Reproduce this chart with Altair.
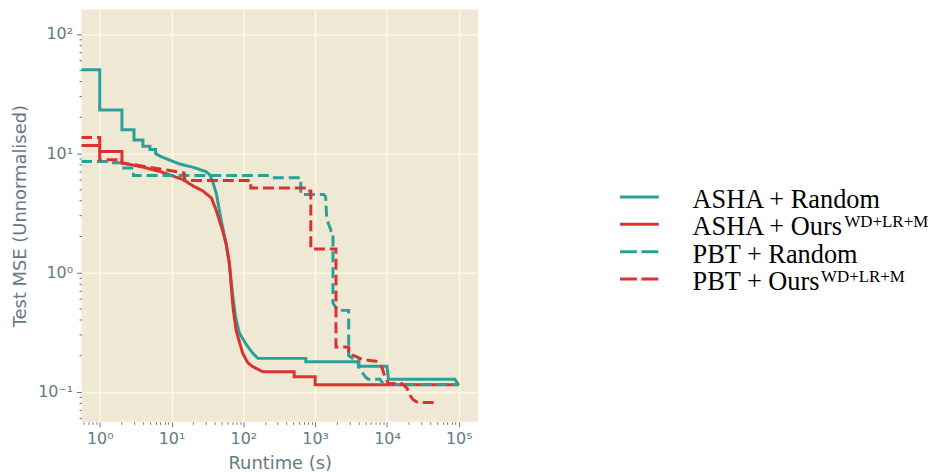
import altair as alt
import pandas as pd

# ---------------- data ----------------
SERIES = ["ASHA + Random", "ASHA + Ours", "PBT + Random", "PBT + Ours"]
MAIN_LABELS = ["ASHA + Random", "ASHA + Ours", "PBT + Random", "PBT + Ours"]
SUP_LABELS = ["", "WD+LR+M", "", "WD+LR+M"]
COLORS = ["#2aa198", "#dc322f", "#2aa198", "#dc322f"]

asha_random_x = [0.55, 1, 1, 2.04, 2.04, 3.0, 3.0, 4.0, 4.0, 5.0, 5.0, 6.0, 6.0, 7, 10, 13, 20, 30,
                 34, 38, 42, 46, 50, 58, 64, 71, 78, 88, 109, 135, 160, 740, 740, 4000, 4000,
                 10000, 10500, 88000, 100000]
asha_random_y = [50, 50, 23, 23, 15.7, 15.7, 12.9, 12.9, 11.4, 11.4, 10.7, 10.7, 9.9, 9.4, 8.6, 8.1,
                 7.6, 7.0, 6.6, 5.6, 4.6, 3.4, 2.6, 1.7, 1.15, 0.65, 0.42, 0.31, 0.25, 0.21, 0.19,
                 0.19, 0.178, 0.178, 0.163, 0.163, 0.127, 0.127, 0.113]

asha_ours_x = [0.55, 1, 1, 2.04, 2.04, 3, 4.5, 7, 10.6, 14.5, 20, 27.5, 36, 42, 46.6, 52, 58, 64,
               68, 72, 79, 90, 98, 115, 135, 186, 510, 510, 1000, 1000, 100000]
asha_ours_y = [11.6, 11.6, 10.3, 10.3, 8.25, 7.9, 7.5, 7.0, 6.4, 6.0, 5.3, 4.8, 4.2, 3.3, 2.7, 2.2,
               1.7, 1.2, 0.75, 0.5, 0.33, 0.25, 0.21, 0.175, 0.162, 0.147, 0.147, 0.133, 0.133,
               0.114, 0.114]

pbt_random_x = [0.55, 1.56, 1.56, 2.04, 2.04, 2.95, 2.95, 230, 250, 630, 630, 1320, 1400, 1450,
                1640, 1700, 1770, 1770, 2080, 2930, 2930, 3300, 4080, 4080, 4500, 5000, 5500,
                8000, 9000, 100000]
pbt_random_y = [8.5, 8.5, 8.3, 8.3, 7.5, 7.5, 6.5, 6.5, 6.2, 6.2, 4.5, 4.5, 4.3, 2.8, 2.3, 2.1, 2.1,
                0.55, 0.48, 0.48, 0.2, 0.19, 0.19, 0.16, 0.145, 0.133, 0.127, 0.127, 0.115, 0.115]

pbt_ours_x = [0.55, 1, 1, 2.04, 2.04, 3, 5, 10, 15, 15.3, 127, 127, 780, 800, 870, 870, 1950, 1950,
              2930, 2930, 3500, 4200, 5000, 7000, 7700, 8500, 9500, 10500, 16000, 19000, 21000,
              23000, 26000, 27000, 45000]
pbt_ours_y = [13.5, 13.5, 8.8, 8.8, 8.25, 8.0, 7.6, 7.1, 6.8, 5.9, 5.9, 5.1, 5.1, 4.8, 4.8, 1.57,
              1.57, 0.237, 0.237, 0.205, 0.2, 0.19, 0.185, 0.18, 0.174, 0.16, 0.13, 0.117, 0.117,
              0.107, 0.093, 0.086, 0.082, 0.081, 0.081]

# tick values
X_MAJOR = [1, 10, 100, 1000, 10000, 100000]
Y_MAJOR = [0.1, 1, 10, 100]
X_DOMAIN = [0.558, 1.85e5]
Y_DOMAIN = [0.0558, 160]

# ---------------- build tables ----------------
xs = [asha_random_x, asha_ours_x, pbt_random_x, pbt_ours_x]
ys = [asha_random_y, asha_ours_y, pbt_random_y, pbt_ours_y]
rows = []
for k, (s, xv, yv) in enumerate(zip(SERIES, xs, ys)):
    for i, (a, b) in enumerate(zip(xv, yv)):
        rows.append({"series": s, "runtime": a, "mse": b, "idx": i, "k": k})
df = pd.DataFrame(rows)


def minor_ticks(lo, hi):
    vals = []
    for d in range(-3, 7):
        for m in range(1, 10):
            v = round(m * 10 ** d, 6)
            if lo <= v <= hi:
                vals.append(v)
    return vals


x_ticks = minor_ticks(*X_DOMAIN)
y_ticks = minor_ticks(*Y_DOMAIN)

MAJOR = "abs(log(datum.value)/LN10 - round(log(datum.value)/LN10)) < 0.001"
LABEL = ("(" + MAJOR + ") ? '10' + ['⁻¹','⁰','¹','²','³','⁴','⁵'][round(log(datum.value)/LN10) + 1] : ''")
TXT = "#657b83"


def make_axis(title, values):
    return alt.Axis(
        title=title,
        values=values,
        labelExpr=LABEL,
        labelOverlap=False,
        labelFlush=False,
        labelFont="DejaVu Sans",
        labelFontSize=16,
        labelColor=TXT,
        labelPadding=4,
        tickColor=TXT,
        tickWidth=1,
        tickSize={"condition": {"test": MAJOR, "value": 5}, "value": 2.5},
        grid=True,
        gridColor="#fdf6e3",
        gridWidth=1.6,
        gridOpacity={"condition": {"test": MAJOR, "value": 1}, "value": 0},
        domain=False,
        titleFont="DejaVu Sans",
        titleFontSize=18,
        titleFontWeight="normal",
        titleColor=TXT,
        titlePadding=8,
    )


xscale = alt.Scale(type="log", domain=X_DOMAIN, nice=False)
yscale = alt.Scale(type="log", domain=Y_DOMAIN, nice=False)

layers = []
for k, s in enumerate(SERIES):
    dash = [1, 0] if k < 2 else [11, 5]
    if k == 0:
        enc = dict(
            x=alt.X("runtime:Q", scale=xscale, axis=make_axis("Runtime (s)", x_ticks)),
            y=alt.Y("mse:Q", scale=yscale, axis=make_axis("Test MSE (Unnormalised)", y_ticks)),
            order=alt.Order("idx:Q"),
        )
    else:
        enc = dict(
            x=alt.X("runtime:Q", scale=xscale),
            y=alt.Y("mse:Q", scale=yscale),
            order=alt.Order("idx:Q"),
        )
    layers.append(
        alt.Chart(df)
        .transform_filter(alt.datum.k == k)
        .mark_line(color=COLORS[k], strokeWidth=3, strokeDash=dash, clip=True)
        .encode(**enc)
    )

plot = alt.layer(*layers).properties(
    width=399, height=415,
    view=alt.ViewBackground(fill="#eee8d5", stroke=None),
)

# ---------------- legend panel ----------------
leg_df = pd.DataFrame({"series": SERIES, "main": MAIN_LABELS, "sup": SUP_LABELS})
yleg = alt.Y("series:N", scale=alt.Scale(type="point", domain=SERIES, range=[188.7, 271.3], padding=0),
             axis=None)
base = alt.Chart(leg_df).encode(y=yleg)
col = alt.Color("series:N", scale=alt.Scale(domain=SERIES, range=COLORS), legend=None)
dsh = alt.StrokeDash("series:N", scale=alt.Scale(domain=SERIES, range=[[1, 0], [1, 0], [17, 4.5], [17, 4.5]]),
                     legend=None)
rules = base.mark_rule(strokeWidth=3).encode(x=alt.value(23), x2=alt.value(62), color=col, strokeDash=dsh)
FS = 26.5
SFS = 17
texts = base.mark_text(align="left", baseline="alphabetic", font="Liberation Serif", fontSize=FS,
                       dy=11, color="black").encode(x=alt.value(96), text="main:N")
sup1 = base.transform_filter(alt.datum.series == "ASHA + Ours").mark_text(
    align="left", baseline="alphabetic", font="Liberation Serif", fontSize=SFS, dy=3, color="black",
    dx=5.73 * FS + 1).encode(x=alt.value(96), text="sup:N")
sup2 = base.transform_filter(alt.datum.series == "PBT + Ours").mark_text(
    align="left", baseline="alphabetic", font="Liberation Serif", fontSize=SFS, dy=3, color="black",
    dx=4.842 * FS + 1).encode(x=alt.value(96), text="sup:N")

legend = alt.layer(rules, texts, sup1, sup2).properties(
    width=340, height=415, view=alt.ViewBackground(stroke=None, fill=None)
)

chart = (
    alt.hconcat(plot, legend, spacing=120)
    .resolve_scale(color="independent", strokeDash="independent", y="independent", x="independent")
    .properties(padding={"left": 3, "top": 0, "right": 0, "bottom": 0}, background="white")
    .configure_view(stroke=None)
)

chart.save("out.html", embed_options={"renderer": "svg", "actions": False})
